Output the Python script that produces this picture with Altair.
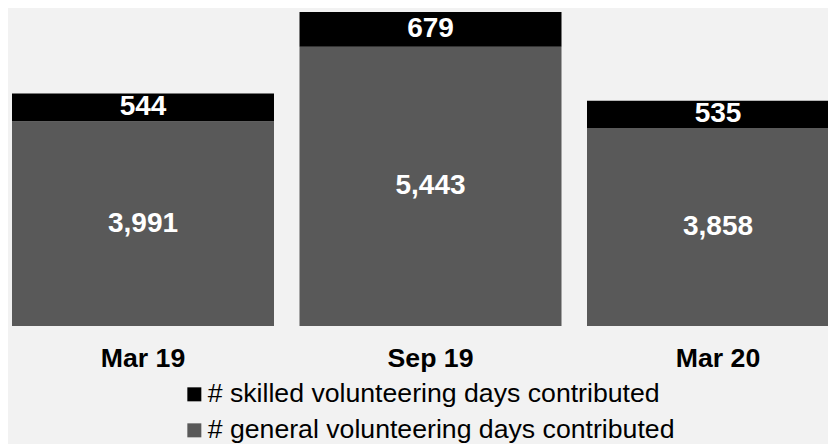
import altair as alt
import pandas as pd

periods = ["Mar 19", "Sep 19", "Mar 20"]
series = ["# skilled volunteering days contributed", "# general volunteering days contributed"]
skilled = [544, 679, 535]
general = [3991, 5443, 3858]
colors = ["#000000", "#595959"]

rows = []
for i, p in enumerate(periods):
    rows.append(dict(period=p, series=series[1], value=general[i], ord=0))
    rows.append(dict(period=p, series=series[0], value=skilled[i], ord=1))
df = pd.DataFrame(rows)

FONT = "Liberation Sans"
FS = 26.67

xscale = alt.Scale(range=[0, 837], paddingInner=0.0887, paddingOuter=0)
yscale = alt.Scale(domain=[0, 6122], nice=False)
xaxis = alt.Axis(labelAngle=0, labelFontSize=FS, labelFontWeight="bold",
                 labelColor="#000000", labelFont=FONT, domain=False,
                 ticks=False, labelPadding=19, grid=False, title=None)

bars = alt.Chart(df).mark_bar(clip=True).encode(
    x=alt.X("period:N", sort=periods, title=None, scale=xscale, axis=xaxis),
    y=alt.Y("value:Q", stack="zero", scale=yscale, axis=None),
    color=alt.Color("series:N", scale=alt.Scale(domain=series, range=colors),
                    legend=alt.Legend(title=None, orient="none", legendX=169, legendY=369,
                                      direction="vertical", symbolType="square",
                                      symbolSize=196, symbolStrokeWidth=0,
                                      labelFontSize=FS, labelFont=FONT,
                                      labelColor="#000000", labelOffset=0,
                                      rowPadding=8, labelLimit=700, padding=0)),
    order=alt.Order("ord:Q"),
)

labels = alt.Chart(df).transform_stack(
    stack="value", groupby=["period"], sort=[alt.SortField("ord")], as_=["y0", "y1"]
).transform_calculate(
    mid="(datum.y0 + datum.y1) / 2"
).mark_text(
    font=FONT, fontSize=28, fontWeight="bold", color="#ffffff", baseline="middle", clip=True
).encode(
    x=alt.X("period:N", sort=periods, title=None, scale=xscale, axis=xaxis),
    y=alt.Y("mid:Q", scale=yscale, axis=None),
    text=alt.Text("value:Q", format=","),
)

chart = alt.layer(bars, labels).properties(
    width=816, height=314,
    padding={"left": 4, "top": 4, "right": 0, "bottom": 118},
    autosize=alt.AutoSizeParams(type="none"),
    background="#f2f2f2",
).configure_view(stroke=None)

chart.save("out.html", embed_options={"renderer": "svg", "actions": False})
